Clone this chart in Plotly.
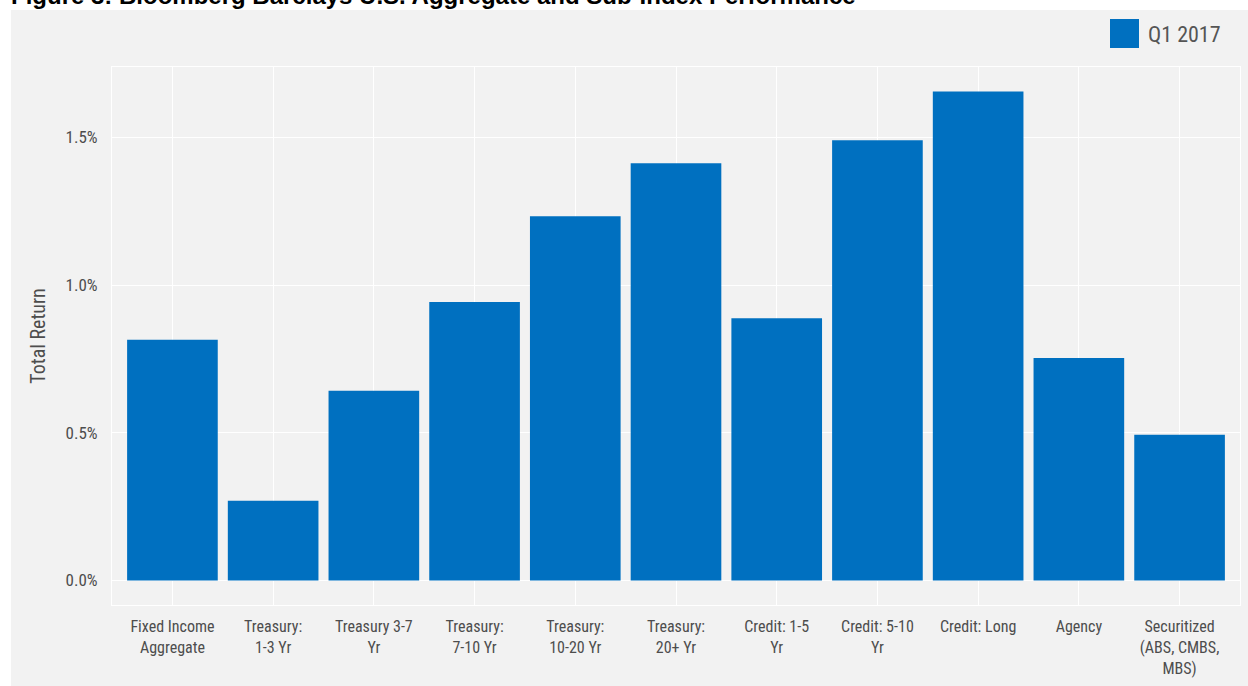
import plotly.graph_objects as go

categories = ["Fixed Income<br>Aggregate", "Treasury:<br>1-3 Yr", "Treasury 3-7<br>Yr",
              "Treasury:<br>7-10 Yr", "Treasury:<br>10-20 Yr", "Treasury:<br>20+ Yr",
              "Credit: 1-5<br>Yr", "Credit: 5-10<br>Yr", "Credit: Long", "Agency",
              "Securitized<br>(ABS, CMBS,<br>MBS)"]
q1_2017 = [0.815, 0.27, 0.642, 0.943, 1.233, 1.412, 0.888, 1.490, 1.655, 0.753, 0.493]
y_ticks = [0.0, 0.5, 1.0, 1.5]
y_tick_labels = ["0.0%", "0.5%", "1.0%", "1.5%"]
series_name = "Q1 2017"
title_text = "Figure 3: Bloomberg Barclays U.S. Aggregate and Sub-Index Performance"

W, H = 1248, 686
L, R, T, B = 112, 8, 67, 81
PW, PH = W - L - R, H - T - B

def px(x):
    return (x - L) / PW

def py(y):
    return 1 - (y - T) / PH

FONT = "Liberation Sans Narrow, Arial Narrow, Roboto Condensed, Roboto, sans-serif"
BLUE = "#0070C0"
BG = "#F2F2F2"
TXT = "#4D4D4D"

fig = go.Figure(go.Bar(x=categories, y=q1_2017, width=0.9, marker=dict(color=BLUE, line=dict(width=0)),
                       name=series_name, showlegend=False))

fig.update_layout(
    width=W, height=H,
    margin=dict(l=L, r=R, t=T, b=B),
    paper_bgcolor=BG, plot_bgcolor=BG,
    font=dict(family=FONT, color=TXT, size=16),
    shapes=[
        dict(type="rect", xref="paper", yref="paper", x0=px(0), x1=px(W), y0=py(0), y1=py(10),
             fillcolor="white", line=dict(width=0), layer="below"),
        dict(type="rect", xref="paper", yref="paper", x0=px(0), x1=px(11), y0=py(0), y1=py(H),
             fillcolor="white", line=dict(width=0), layer="below"),
        dict(type="rect", xref="paper", yref="paper", x0=px(1110), x1=px(1139), y0=py(19), y1=py(48),
             fillcolor=BLUE, line=dict(width=0)),
    ],
    annotations=[
        dict(text=series_name, xref="paper", yref="paper", x=px(1146), y=py(34), xanchor="left",
             yanchor="middle", showarrow=False, font=dict(size=22, color="#555555", family=FONT)),
        dict(text="<b>" + title_text + "</b>", xref="paper", yref="paper", x=px(9), y=py(-4),
             xanchor="left", yanchor="middle", showarrow=False,
             font=dict(size=24, color="black", family="Liberation Sans, Arial, sans-serif")),
    ],
)
fig.update_xaxes(showgrid=True, gridcolor="white", gridwidth=1, showline=True, mirror=True,
                 linecolor="white", linewidth=1, ticks="", ticklabelstandoff=7, automargin=False,
                 range=[-0.6, len(categories) - 0.4], tickfont=dict(size=16, color=TXT))
fig.update_yaxes(showgrid=True, gridcolor="white", gridwidth=1, showline=True, mirror=True,
                 linecolor="white", linewidth=1, ticks="", zeroline=False, automargin=False,
                 tickvals=y_ticks, ticktext=y_tick_labels, range=[-0.083, 1.738],
                 ticklabelstandoff=10, tickfont=dict(size=17, color=TXT),
                 title=dict(text="Total Return", font=dict(size=20, color=TXT), standoff=14))

fig.write_html("out.html")
